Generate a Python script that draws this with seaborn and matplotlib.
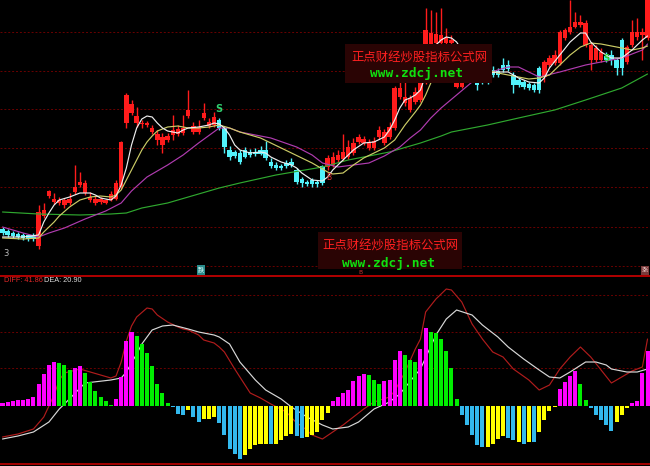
import numpy as np
import seaborn as sns
import matplotlib.pyplot as plt
from matplotlib.patches import Rectangle

# ---- daily candles (price units), one entry per bar ----
opens = [71, 69, 67, 66, 65, 65, 65, 54, 84, 104,
         98, 97, 95, 97, 108, 115, 107, 100, 97, 98,
         97, 100, 101, 113, 177, 187, 177, 176, 175, 168,
         160, 155, 160, 165, 166, 167, 184, 168, 168, 182,
         174, 175, 180, 172, 150, 148, 147, 150, 148, 148,
         150, 150, 138, 135, 134, 137, 138, 130, 121, 118,
         120, 118, 134, 133, 135, 140, 141, 143, 147, 158,
         157, 152, 152, 163, 157, 163, 172, 203, 197, 190,
         198, 200, 218, 256, 257, 257, 257, 257, 213, 213,
         240, 230, 220, 222, 223, 230, 229, 235, 235, 225,
         220, 218, 216, 215, 232, 223, 235, 237, 237, 262,
         268, 273, 275, 255, 240, 240, 240, 244, 245, 240,
         260, 238, 255, 263, 265, 262]
closes = [67, 65, 64, 63, 62, 61, 61, 88, 90, 109,
          101, 100, 100, 101, 113, 118, 117, 103, 101, 101,
          100, 106, 117, 158, 205, 196, 184, 177, 177, 172,
          166, 163, 164, 170, 171, 172, 190, 174, 172, 187,
          178, 183, 172, 153, 143, 144, 138, 143, 145, 146,
          146, 142, 134, 132, 132, 134, 135, 118, 117, 116,
          116, 116, 117, 142, 143, 145, 148, 153, 157, 163,
          161, 158, 159, 170, 168, 173, 212, 212, 203, 202,
          208, 220, 270, 267, 266, 265, 262, 260, 245, 240,
          225, 220, 215, 218, 218, 225, 225, 230, 231, 215,
          215, 213, 212, 210, 210, 238, 242, 245, 268, 270,
          273, 278, 278, 277, 255, 252, 248, 240, 240, 232,
          232, 253, 268, 268, 268, 305]
highs = [73, 71, 69, 68, 67, 66, 67, 95, 97, 110,
         107, 103, 102, 107, 135, 128, 120, 108, 104, 103,
         101, 109, 120, 159, 207, 200, 193, 180, 179, 175,
         170, 167, 167, 185, 175, 185, 210, 178, 180, 197,
         182, 188, 182, 173, 154, 150, 150, 153, 151, 152,
         154, 159, 142, 138, 136, 140, 142, 132, 123, 120,
         122, 120, 135, 145, 148, 150, 166, 160, 162, 166,
         164, 161, 163, 174, 171, 178, 214, 220, 218, 205,
         213, 224, 292, 290, 288, 292, 272, 265, 250, 245,
         245, 234, 222, 225, 226, 234, 232, 242, 240, 228,
         222, 220, 218, 217, 234, 240, 245, 250, 270, 272,
         300, 288, 285, 280, 258, 255, 252, 248, 250, 242,
         262, 255, 280, 282, 272, 305]
lows = [65, 63, 62, 61, 60, 59, 59, 51, 82, 102,
        96, 95, 92, 95, 106, 113, 105, 98, 95, 96,
        96, 99, 100, 111, 172, 185, 173, 172, 173, 166,
        155, 147, 158, 160, 164, 165, 182, 166, 166, 180,
        172, 173, 170, 147, 140, 142, 136, 142, 143, 144,
        145, 140, 132, 130, 130, 132, 133, 116, 113, 114,
        113, 113, 115, 130, 133, 138, 139, 141, 145, 156,
        155, 150, 150, 161, 155, 161, 170, 201, 194, 188,
        196, 198, 216, 254, 255, 255, 253, 255, 212, 212,
        222, 218, 210, 216, 216, 223, 223, 228, 229, 207,
        213, 211, 210, 208, 207, 218, 233, 235, 235, 260,
        266, 272, 273, 253, 230, 238, 238, 238, 235, 225,
        225, 236, 253, 260, 240, 260]

# ---- moving averages, read at selected bars ----
ma5_idx = [0, 4, 7, 8, 9, 10, 11, 13, 15, 17, 18, 19, 21, 22, 23, 24, 25, 26, 27, 28,
           29, 30, 31, 32, 34, 35, 36, 38, 40, 41, 42, 43, 44, 45, 46, 48, 50, 51, 52, 54,
           56, 57, 58, 60, 62, 63, 64, 66, 68, 70, 72, 74, 75, 76, 77, 78, 79, 80, 81, 82,
           83, 84, 85, 86, 87, 88, 89, 90, 92, 94, 96, 98, 100, 102, 104, 105, 106, 108, 110, 112,
           113, 114, 116, 118, 120, 122, 124, 125]
ma5_val = [63, 63, 65, 78, 87, 95, 100, 103, 107, 107, 105, 102, 100, 104, 115, 132, 155, 172, 181, 184,
           183, 177, 172, 169, 167, 170, 172, 173, 175, 177, 176, 172, 165, 155, 150, 147, 148, 147, 143, 138,
           135, 132, 127, 120, 119, 123, 130, 140, 150, 157, 158, 163, 170, 180, 192, 200, 202, 205, 210, 225,
           245, 255, 260, 263, 262, 258, 250, 242, 230, 227, 228, 228, 222, 218, 217, 222, 232, 245, 258, 267,
           267, 258, 248, 242, 242, 250, 260, 264]
ma10_idx = [0, 4, 7, 8, 10, 11, 13, 15, 17, 19, 21, 22, 23, 24, 25, 26, 27, 28, 29, 30,
            32, 34, 36, 38, 40, 42, 44, 46, 48, 50, 52, 54, 56, 58, 60, 62, 63, 64, 66, 68,
            70, 72, 74, 76, 78, 80, 81, 82, 83, 84, 85, 86, 88, 90, 92, 94, 96, 98, 100, 102,
            104, 106, 108, 110, 112, 114, 116, 118, 120, 122, 124, 125]
ma10_val = [62, 61, 62, 68, 78, 84, 93, 100, 103, 104, 103, 105, 110, 120, 130, 140, 150, 158, 164, 169,
            173, 174, 172, 172, 173, 175, 172, 168, 165, 162, 157, 152, 147, 142, 137, 131, 128, 126, 127, 135,
            142, 147, 152, 160, 175, 188, 195, 205, 217, 228, 235, 242, 248, 245, 238, 230, 227, 225, 223, 221,
            222, 225, 235, 245, 253, 257, 256, 254, 252, 250, 252, 254]
ma20_idx = [0, 4, 7, 9, 12, 16, 20, 23, 25, 28, 32, 35, 38, 42, 44, 46, 52, 57, 60, 62,
            65, 68, 71, 74, 77, 79, 81, 83, 85, 88, 91, 94, 98, 100, 104, 108, 113, 120, 124, 125]
ma20_val = [73, 67, 63, 67, 72, 81, 89, 97, 109, 123, 135, 145, 157, 172, 172, 168, 162, 153, 145, 137,
            133, 135, 137, 144, 153, 162, 170, 182, 192, 205, 218, 227, 233, 233, 223, 228, 235, 242, 250, 256]
ma60_idx = [0, 7, 15, 21, 24, 27, 32, 36, 42, 46, 53, 62, 67, 75, 81, 85, 87, 94, 100, 107,
            113, 120, 125]
ma60_val = [88, 86, 85, 86, 87, 92, 97, 103, 112, 117, 125, 133, 140, 148, 157, 164, 168, 175, 182, 190,
            200, 212, 226]

# ---- MACD ----
hist = [3, 4, 5, 6, 6.5, 7, 9, 22, 32, 41, 44,
        43, 41, 36, 38, 40, 33, 24, 15, 9, 5, 1.3,
        6.7, 29, 65, 74, 70, 62, 53, 40, 22, 13, 3,
        -1.3, -8, -9, -4, -11, -16, -13, -13, -11,
        -17, -29, -43, -48, -53, -49, -43, -39, -38, -38,
        -38, -38, -34, -30, -28, -30, -32, -31, -29, -26, -14, -7,
        4.7, 9, 13, 16, 25, 30, 32, 31, 26, 22,
        25, 26, 46, 55, 51, 46, 44, 57, 78,
        74, 73, 67, 55, 38, 7, -9, -19, -29, -39, -41,
        -41, -38, -33, -30, -32, -34, -36, -38, -36, -36, -26, -14, -5, -0.5,
        17, 24, 30, 35, 22, 6, -2, -9, -14, -19, -25, -16, -9, -2, 3, 5, 33, 55]
hist_code = ("MMMMMMMMMMM" "GGG" "MM" "GGGGGG" "MMMM" "GGGGGGG" "BBB" "Y" "BB" "YYY"
             "BBBBB" "YYYYY" "B" "YYYY" "BB" "YYYYY" "MMMMMMM" "GGG" "MMMM" "GGG" "MM"
             "GGGGGG" "BBBBB" "YYYY" "BB" "Y" "B" "Y" "B" "YYYY" "MMMM" "GG" "BBBBB" "YYY" "MMMM")
diff_idx = [0, 3, 6, 8, 10, 11, 12, 15, 17, 19, 21, 22, 23, 24, 25, 26, 28, 29, 30, 32,
            34, 35, 36, 38, 39, 41, 42, 43, 45, 47, 48, 50, 52, 55, 57, 58, 60, 62, 64, 66,
            68, 70, 72, 75, 76, 78, 80, 81, 82, 84, 86, 87, 89, 91, 93, 95, 97, 99, 102, 104,
            106, 108, 110, 112, 114, 116, 118, 120, 122, 124, 125]
diff_val = [-31, -28, -23, -11, 11, 26, 33, 37, 34, 31, 28, 30, 44, 65, 80, 89, 98, 97, 91, 84,
            79, 77, 76, 71, 66, 63, 59, 54, 37, 21, 13, 8, 2, -6, -17, -20, -29, -33, -26, -19,
            -11, -3, 4, 9, 15, 34, 57, 67, 94, 107, 117, 116, 104, 82, 67, 54, 49, 37, 26, 16,
            21, 37, 49, 59, 49, 36, 23, 29, 35, 39, 67]
dea_idx = [0, 3, 6, 9, 11, 12, 16, 21, 23, 24, 26, 27, 29, 31, 33, 36, 38, 41, 42, 44,
           46, 49, 51, 54, 56, 59, 62, 64, 67, 69, 72, 75, 77, 80, 81, 84, 86, 88, 91, 93,
           96, 98, 101, 104, 106, 108, 110, 113, 115, 117, 118, 121, 123, 125]
dea_val = [-33, -30, -26, -16, -3, 2, 23, 26, 28, 34, 52, 62, 76, 80, 81, 77, 74, 71, 69, 62,
           44, 26, 16, 7, -1, -11, -19, -23, -21, -16, -3, 4, 12, 31, 37, 71, 87, 96, 91, 81,
           69, 59, 47, 36, 29, 28, 34, 44, 44, 41, 37, 34, 34, 37]

grid_top = [268, 229, 191, 152, 113, 73, 34]
grid_bottom = [38, 74, 111]

RED = '#ff1c1c'
CYAN = '#52f2fa'
hist_palette = {'M': '#ff00ff', 'G': '#00ee00', 'B': '#33b9ee', 'Y': '#ffff00'}

sns.set_theme(style='dark', rc={'axes.facecolor': 'black', 'figure.facecolor': 'black'})
plt.rcParams['font.family'] = ['DejaVu Sans', 'Noto Sans CJK SC']

fig = plt.figure(figsize=(6.5, 4.66), dpi=100, facecolor='black')
ax = fig.add_axes([0, 190 / 466, 1, 276 / 466])
ax2 = fig.add_axes([0, 0, 1, 190 / 466])

n = len(opens)
x = np.arange(n)
o = np.array(opens, float)
c = np.array(closes, float)
cols = np.where(c >= o, RED, CYAN)

# candles
ax.vlines(x, lows, highs, colors=cols, linewidth=1.0, zorder=2)
ax.bar(x, np.maximum(np.abs(c - o), 1.2), bottom=np.minimum(o, c), width=0.86,
       color=cols, linewidth=0, zorder=3)

for idx, vals, col in [(ma60_idx, ma60_val, '#2fa82f'), (ma20_idx, ma20_val, '#b03cb0'),
                       (ma10_idx, ma10_val, '#cccc66'), (ma5_idx, ma5_val, '#eeeeee')]:
    sns.lineplot(x=idx, y=vals, ax=ax, color=col, linewidth=0.85, zorder=4, legend=False)

# signal marks
ax.annotate('S', xy=(42, highs[42]), xytext=(0, 3), textcoords='offset points', ha='center',
            va='bottom', color='#30d070', fontsize=7, fontweight='bold', zorder=6)
ax.annotate('B', xy=(63, lows[63]), xytext=(1, -2), textcoords='offset points', ha='center',
            va='top', color='#e03030', fontsize=5.5, zorder=6)
ax.annotate('S', xy=(117, highs[117]), xytext=(0, -5), textcoords='offset points', ha='center',
            va='center', color='#30d030', fontsize=6, fontweight='bold', zorder=6)

# watermark boxes
for (bx, by, bw, bh), (tx, ty), (ux, uy) in [((0.531, 0.699, 0.226, 0.142), (0.6454, 0.79), (0.6415, 0.7355)),
                                            ((0.489, 0.025, 0.222, 0.135), (0.6008, 0.1087), (0.5977, 0.0455))]:
    ax.add_patch(Rectangle((bx, by), bw, bh, transform=ax.transAxes, facecolor='#2a0404',
                           edgecolor='none', zorder=5))
    ax.text(tx, ty, '正点财经炒股指标公式网', transform=ax.transAxes, ha='center', va='center',
            color='#ff2020', fontsize=8.9, family=['Noto Sans CJK SC'], zorder=6)
    ax.text(ux, uy, 'www.zdcj.net', transform=ax.transAxes, ha='center', va='center',
            color='#10e010', fontsize=9.3, family=['DejaVu Sans Mono'], fontweight='bold', zorder=6)

ax.text(0.005, 0.08, '3', transform=ax.transAxes, color='#bbbbbb', fontsize=6, va='center')
ax.text(0.309, 0.022, '跌', transform=ax.transAxes, color='#e0ffff', fontsize=4.5, ha='center',
        va='center', family=['Noto Sans CJK SC'],
        bbox=dict(facecolor='#2a8c8c', edgecolor='none', pad=0.6), zorder=6)
ax.text(0.555, 0.003, 'B', transform=ax.transAxes, color='#d03030', fontsize=4.3, ha='center',
        va='bottom', zorder=6)
ax.text(0.992, 0.02, '涨', transform=ax.transAxes, color='#f0d0d0', fontsize=4.5, ha='center',
        va='center', family=['Noto Sans CJK SC'],
        bbox=dict(facecolor='#7a3a3a', edgecolor='none', pad=0.6), zorder=6)

# MACD panel
sns.lineplot(x=diff_idx, y=diff_val, ax=ax2, color='#b01c1c', linewidth=0.85, zorder=1, legend=False)
sns.lineplot(x=dea_idx, y=dea_val, ax=ax2, color='#d8d8d8', linewidth=0.85, zorder=1, legend=False)
ax2.bar(x, hist, width=0.78, color=[hist_palette[k] for k in hist_code], linewidth=0, zorder=2)
ax2.axhline(-58, color='#c00000', linewidth=1.2)
ax2.text(0.006, 0.974, 'DIFF: 41.86', transform=ax2.transAxes, color='#e02828', fontsize=5.3,
         family=['Liberation Sans'], va='center')
ax2.text(0.068, 0.974, 'DEA: 20.90', transform=ax2.transAxes, color='#d8d8d8', fontsize=5.3,
         family=['Liberation Sans'], va='center')

for a, lim, levels in [(ax, (24, 300), grid_top), (ax2, (-60, 130), grid_bottom)]:
    a.set_xlim(-0.485, 125.48)
    a.set_ylim(*lim)
    a.set_facecolor('black')
    a.set_xticks([])
    a.set_yticks(levels)
    a.tick_params(length=0, labelleft=False, labelbottom=False)
    a.grid(True, axis='y', color='#6a0000', linestyle=(0, (2, 2)), linewidth=0.7)
    a.set_xlabel('')
    a.set_ylabel('')
    for s in a.spines.values():
        s.set_visible(False)

ax2.spines['top'].set_visible(True)
ax2.spines['top'].set_color('#c00000')
ax2.spines['top'].set_linewidth(1.3)

fig.savefig('out.png', dpi=100, facecolor='black')
